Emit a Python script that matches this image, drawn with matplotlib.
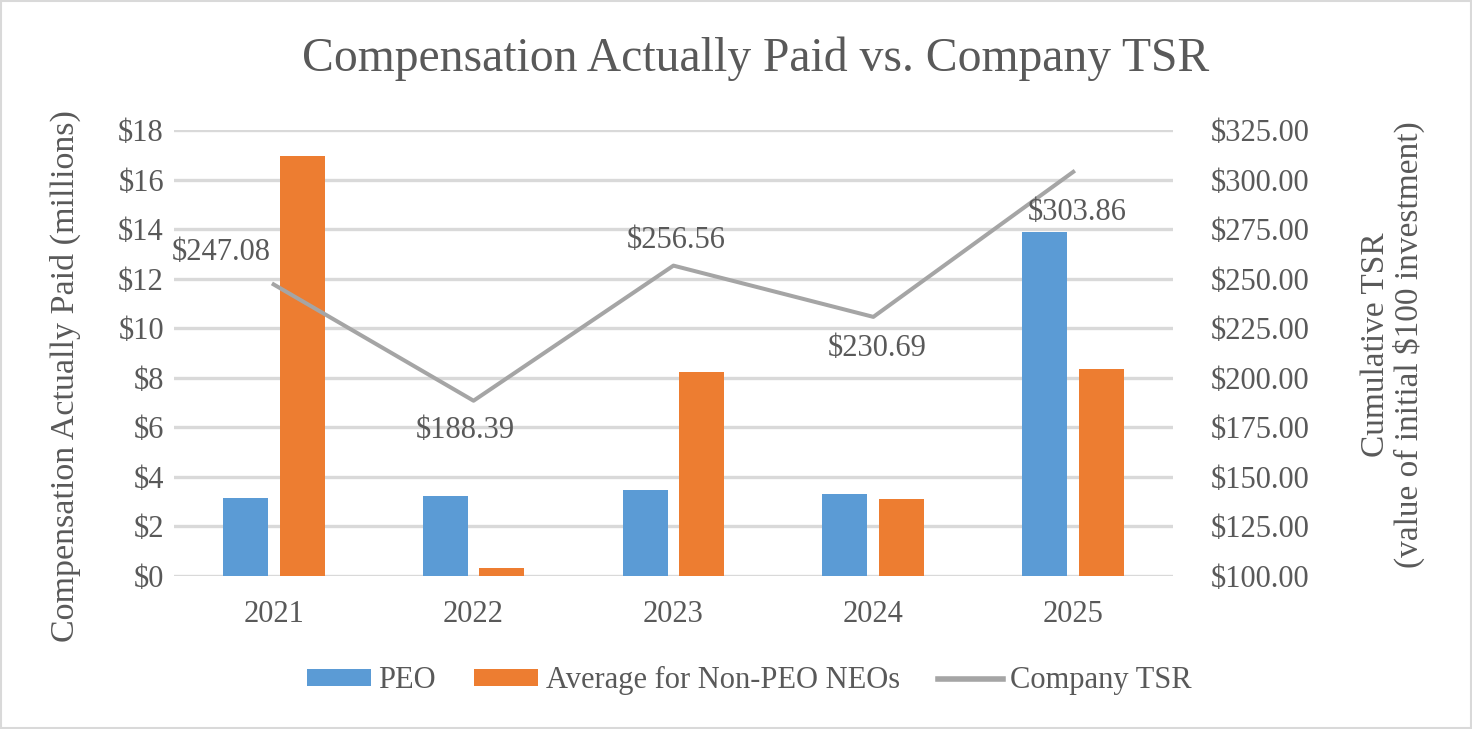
import matplotlib
matplotlib.use("Agg")
import matplotlib.pyplot as plt
import numpy as np
from matplotlib.patches import Rectangle

years = ["2021", "2022", "2023", "2024", "2025"]
peo = [3.15, 3.24, 3.47, 3.31, 13.88]
non_peo = [16.96, 0.31, 8.23, 3.10, 8.37]
tsr = [247.08, 188.39, 256.56, 230.69, 303.86]
left_ticks = [0, 2, 4, 6, 8, 10, 12, 14, 16, 18]
right_ticks = [100, 125, 150, 175, 200, 225, 250, 275, 300, 325]

TXT = "#595959"
BLUE = "#5B9BD5"
ORANGE = "#ED7D31"
GRAY = "#A5A5A5"
GRID = "#D9D9D9"
FS = 22

plt.rcParams['font.family'] = ['Liberation Serif', 'DejaVu Serif']

fig = plt.figure(figsize=(14.72, 7.29), dpi=100)
fig.patches.append(Rectangle((0.001, 0.001), 0.998, 0.997, transform=fig.transFigure,
                             fill=False, edgecolor=GRID, linewidth=1.5))

ax = fig.add_axes([0.118, 0.21, 0.679, 0.6117])
x = np.arange(len(years))
w = 0.225
off = 0.142
ax.bar(x - off, peo, w, color=BLUE, label="PEO", zorder=3)
ax.bar(x + off, non_peo, w, color=ORANGE, label="Average for Non-PEO NEOs", zorder=3)
ax.set_xlim(-0.5, 4.5)
ax.set_ylim(0, 18)
ax.set_yticks(left_ticks)
ax.set_yticklabels([f"${v}" for v in left_ticks])
ax.set_xticks(x)
ax.set_xticklabels(years)
for v in left_ticks:
    ax.axhline(v, color=GRID, linewidth=2.4, zorder=1)
for s in ax.spines.values():
    s.set_visible(False)
ax.tick_params(axis='both', length=0, colors=TXT, labelsize=FS)
ax.tick_params(axis='y', pad=7)
ax.tick_params(axis='x', pad=17)

ax2 = ax.twinx()
ax2.plot(x, tsr, color=GRAY, linewidth=2.9, label="Company TSR", zorder=4)
ax2.set_ylim(100, 325)
ax2.set_yticks(right_ticks)
ax2.set_yticklabels([f"${v:.2f}" for v in right_ticks])
for s in ax2.spines.values():
    s.set_visible(False)
ax2.tick_params(axis='y', length=0, colors=TXT, labelsize=FS, pad=27)

fig.text(0.0445, 0.4835, "Compensation Actually Paid (millions)", rotation=90,
         ha='center', va='center', color=TXT, fontsize=24.5)
fig.text(0.9463, 0.5267, "Cumulative TSR\n(value of initial $100 investment)", rotation=90,
         ha='center', va='center', multialignment='center', color=TXT, fontsize=24,
         linespacing=1.05)

offsets = [(-52, 32), (-8, -30), (3, 25), (4, -32), (4, -41)]
for xi, v, (dx, dy) in zip(x, tsr, offsets):
    ax2.annotate(f"${v:.2f}", (xi, v), xytext=(dx, dy), textcoords='offset pixels',
                 ha='center', va='center', color=TXT, fontsize=FS, zorder=5)

fig.text(0.5135, 0.902, "Compensation Actually Paid vs. Company TSR", color=TXT,
         fontsize=34.3, ha='center', va='baseline')

h1, l1 = ax.get_legend_handles_labels()
h2, l2 = ax2.get_legend_handles_labels()
leg = fig.legend(h1 + h2, l1 + l2, loc='center', bbox_to_anchor=(0.509, 0.066), ncol=3,
                 frameon=False, fontsize=FS, labelcolor=TXT, handlelength=2.1,
                 handleheight=0.52, columnspacing=1.25, handletextpad=0.25)
for ln in leg.get_lines():
    ln.set_linewidth(4)

fig.savefig("out.png", dpi=100)
